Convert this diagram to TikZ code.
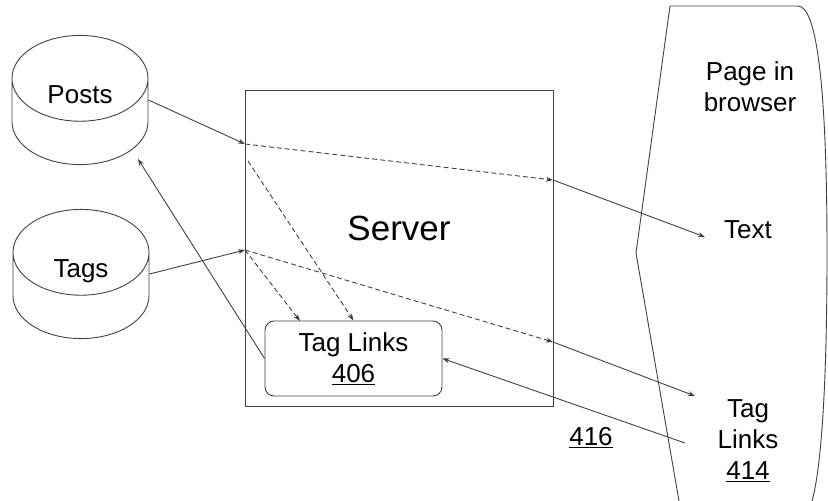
\documentclass[tikz,border=0pt]{standalone}
\usepackage{fontspec}
\setmainfont{Liberation Sans}
\usetikzlibrary{arrows.meta,shapes.geometric}

\begin{document}
\begin{tikzpicture}[x=1pt, y=-1pt, line width=0.9pt, color=black!75,
    every node/.style={text=black, font=\fontsize{26}{31}\selectfont, align=center},
    db/.style={draw, cylinder, shape border rotate=90, aspect=1.3, text width=66pt,
      minimum width=136pt, minimum height=128pt, inner sep=0pt, anchor=shape center},
    link/.style={-{Stealth[length=7pt,width=5pt]}},
    flow/.style={link, dash pattern=on 5pt off 3pt}]
      \useasboundingbox (0,0) rectangle (828,501);
      \node [db] (posts) at (80,100) {};
      \node (postsname) at (80,95) {Posts};
      \node [db] (tags) at (81,274) {};
      \node (tagsname) at (81,271) {Tags};
      \node [draw, minimum width=308pt, minimum height=316pt] (server) at (399,248) {};
      \node [font=\fontsize{35}{40}\selectfont] (servername) at (399,228) {Server};
      \node [draw, rounded corners=9pt, minimum width=177pt, minimum height=75pt] (links) at (353.5,358.5) {Tag Links\\\underline{406}};
      \draw (679,501) -- (636,253) -- (670,6) -- (798,6)
        .. controls (816,6) and (827,80) .. (827,253)
        .. controls (827,420) and (818,480) .. (812,501);
      \node (page) at (750,87) {Page in\\browser};
      \node (text) at (748,230) {Text};
      \node (taglinks) at (748,441) {Tag\\Links\\\underline{414}};
      \node (ref) at (591,438) {\underline{416}};
      \coordinate (postsin) at (245,144);
      \coordinate (postsout) at (553,180);
      \coordinate (postsdown) at (248,161);
      \coordinate (tagsin) at (245,250);
      \coordinate (tagsout) at (553,342);
      \coordinate (postsback) at (138,159);
      \coordinate (linksleft) at (300,321);
      \coordinate (texttip) at (705,237);
      \coordinate (taglinkstip) at (695,396);
      \coordinate (taglinksfrom) at (685,443);
      \draw [link] (posts.east |- posts.shape center) -- (postsin);
      \draw [flow] (postsin) -- (postsout);
      \draw [link] (postsout) -- (texttip);
      \draw [flow] (postsdown) -- (links.north);
      \draw [link] (tags.east |- tags.shape center) -- (tagsin);
      \draw [flow] (tagsin) -- (tagsout);
      \draw [link] (tagsout) -- (taglinkstip);
      \draw [flow] (tagsin) -- (linksleft);
      \draw [link] (links.west) -- (postsback);
      \draw [link] (taglinksfrom) -- (links.east);
    \end{tikzpicture}
\end{document}
